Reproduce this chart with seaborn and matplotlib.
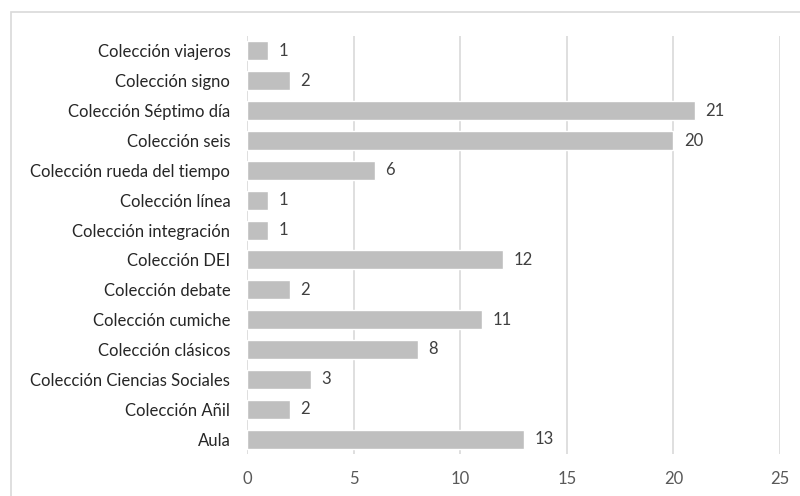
import matplotlib
matplotlib.use("Agg")
import matplotlib.pyplot as plt
import pandas as pd
import seaborn as sns
from matplotlib.patches import Rectangle

# Data (top to bottom)
categories = [
    "Colección viajeros",
    "Colección signo",
    "Colección Séptimo día",
    "Colección seis",
    "Colección rueda del tiempo",
    "Colección línea",
    "Colección integración",
    "Colección DEI",
    "Colección debate",
    "Colección cumiche",
    "Colección clásicos",
    "Colección Ciencias Sociales",
    "Colección Añil",
    "Aula",
]
counts = [1, 2, 21, 20, 6, 1, 1, 12, 2, 11, 8, 3, 2, 13]
x_ticks = [0, 5, 10, 15, 20, 25]

df = pd.DataFrame({"coleccion": categories, "n": counts})

sns.set_theme(style="white")
plt.rcParams["font.family"] = ["Lato", "DejaVu Sans"]

fig = plt.figure(figsize=(8, 4.96), dpi=100)
ax = fig.add_axes([0.30875, 0.0847, 0.66625, 0.8427])

sns.barplot(data=df, x="n", y="coleccion", color="#BFBFBF", saturation=1,
            width=0.64, ax=ax, zorder=3)

ax.set_xlim(0, 25)
ax.set_xticks(x_ticks)
ax.set_xlabel("")
ax.set_ylabel("")
ax.grid(axis="x", color="#D9D9D9", linewidth=1.2, zorder=0)
ax.grid(axis="y", visible=False)
for s in ax.spines.values():
    s.set_visible(False)
ax.tick_params(axis="x", length=0, labelsize=12, labelcolor="#595959", pad=12)
ax.tick_params(axis="y", length=0, labelsize=12, labelcolor="#262626", pad=12)

for i, v in enumerate(counts):
    ax.text(v + 0.5, i, str(v), va="center", ha="left",
            fontsize=12, color="#404040")

# light outer frame like the original chart area
fig.patches.append(Rectangle((11 / 800, -0.01), 1.0, 1 - 12 / 496 + 0.01,
                             transform=fig.transFigure, fill=False,
                             edgecolor="#D9D9D9", linewidth=1.2))

fig.savefig("out.png", dpi=100)
